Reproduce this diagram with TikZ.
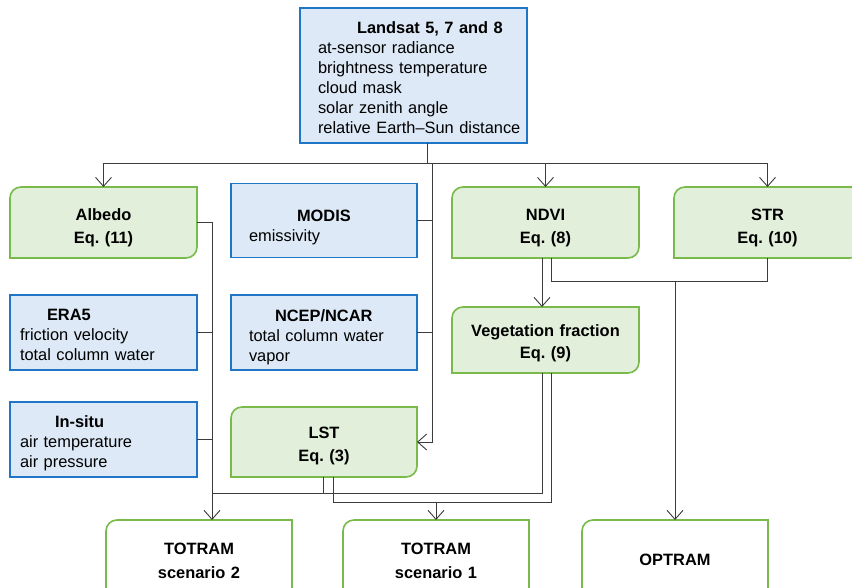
\documentclass[tikz,border=0pt]{standalone}
\usepackage{fontspec}
\setmainfont{Liberation Sans}
\usetikzlibrary{arrows.meta,backgrounds}

\definecolor{srcfill}{RGB}{221,233,246}
\definecolor{srcline}{RGB}{31,118,198}
\definecolor{eqfill}{RGB}{226,239,218}
\definecolor{eqline}{RGB}{120,187,75}
\definecolor{wirecol}{RGB}{60,60,60}

% bold heading, indented from the text start
\newcommand\ttlat[2]{\makebox[0pt][l]{\hspace*{#1}\bfseries #2}}
% green box: top left and bottom right corners rounded
\newcommand\diagshape[2]{%
  \path[draw=eqline, line width=1.6pt, fill=#2]
    (#1.west) [rounded corners=11pt] -- (#1.north west) [sharp corners] -- (#1.north east)
    [rounded corners=11pt] -- (#1.south east) [sharp corners] -- (#1.south west) -- cycle;}

\tikzset{
  drop/.store in=\dropamt, drop=0pt,
  inset/.store in=\insetamt, inset=18pt,
  boxw/.style={minimum width=#1, text width=#1},
  src/.style={draw=srcline, fill=srcfill, line width=1.4pt, inner sep=0pt,
    outer sep=0pt, align=left,
    execute at begin node={\leftskip=\insetamt},
    execute at end node={\par\vspace*{-\dropamt}}},
  srcA/.style={src, boxw=186pt, minimum height=74pt},
  srcB/.style={src, boxw=187pt, minimum height=75pt, inset=10pt},
  eqn/.style={inner sep=0pt, outer sep=0pt, align=center, boxw=187pt,
    font=\fontsize{16.4}{20}\bfseries\selectfont\frenchspacing, minimum height=71pt,
    execute at end node={\par\vspace*{-\dropamt}}},
  wire/.style={draw=wirecol, line width=0.9pt},
  feed/.style={wire, -{Straight Barb[length=9pt,width=16pt]}},
}

\begin{document}
\begin{tikzpicture}[x=1pt, y=-1pt, font=\fontsize{16.4}{20}\selectfont\frenchspacing]
\useasboundingbox (0,0) rectangle (852,588);

% input data
\node[src, boxw=227pt, minimum height=135pt, drop=5pt] (landsat) at (413.5,75.5)
  {\ttlat{39pt}{Landsat 5, 7 and 8}\\at-sensor radiance\\brightness temperature\\cloud mask\\solar zenith angle\\relative Earth--Sun distance};
\node[srcA, drop=13pt] (modis) at (324,220.5) {\ttlat{48pt}{MODIS}\\emissivity};
\node[srcA, minimum height=75pt, drop=10pt] (ncep) at (324,332.5) {\ttlat{26pt}{NCEP/NCAR}\\total column water\\vapor};
\node[srcB, drop=4pt] (era5) at (103.5,332.5) {\ttlat{27pt}{ERA5}\\friction velocity\\total column water};
\node[srcB, drop=8pt] (insitu) at (103.5,439.5) {\ttlat{35pt}{In-situ}\\air temperature\\air pressure};

% derived quantities
\node[eqn, drop=11pt] (albedo) at (103.5,222.5) {Albedo\\[3pt]Eq. (11)};
\node[eqn, drop=11pt] (ndvi) at (545.5,222.5) {NDVI\\[3pt]Eq. (8)};
\node[eqn, drop=11pt] (str) at (767.5,222.5) {STR\\[3pt]Eq. (10)};
\node[eqn, minimum height=66pt, drop=6pt] (vegfrac) at (545.5,340) {Vegetation fraction\\[2pt]Eq. (9)};
\node[eqn, boxw=186pt, minimum height=70pt, drop=8pt] (lst) at (324,442) {LST\\[3pt]Eq. (3)};

% models
\node[eqn, boxw=186pt, minimum height=80pt, drop=2pt] (tot2) at (199,560) {TOTRAM\\[4pt]scenario 2};
\node[eqn, boxw=186pt, minimum height=80pt, drop=2pt] (tot1) at (436,560) {TOTRAM\\[4pt]scenario 1};
\node[eqn, boxw=186pt, minimum height=80pt] (optram) at (675,560) {OPTRAM};

\begin{scope}[on background layer]
  \foreach \n in {albedo,ndvi,str,vegfrac,lst} {\diagshape{\n}{eqfill}}
  \foreach \n in {tot2,tot1,optram} {\diagshape{\n}{white}}
\end{scope}

% junctions
\coordinate (bus) at (427,163);
\coordinate (lsttap) at (432,163);
\coordinate (t2in) at ([xshift=13pt]tot2.north);
\coordinate (j2) at (212,493);
\coordinate (j1) at (436,502);
\coordinate (j3) at (675,281);

\draw[wire] (landsat.south -| bus) -- (bus);
\draw[feed] (bus) -| (albedo.north);
\draw[feed] (bus) -| (ndvi.north);
\draw[feed] (bus) -| (str.north);
\draw[feed] (lsttap) |- (lst.east);
\draw[wire] (modis.east) -- (modis.east -| lsttap);
\draw[wire] (ncep.east) -- (ncep.east -| lsttap);

\draw[feed] (albedo.east) -| (t2in);
\draw[wire] (era5.east) -- (era5.east -| t2in);
\draw[wire] (insitu.east) -- (insitu.east -| t2in);

\draw[wire] ([xshift=-1pt]lst.south) |- (j2);
\draw[wire] ([xshift=9pt]lst.south) |- (j1);
\draw[wire] ([xshift=-3.5pt]vegfrac.south) |- (j2);
\draw[wire] ([xshift=5.5pt]vegfrac.south) |- (j1);
\draw[feed] (j1) -- (tot1.north);

\draw[feed] ([xshift=-3.5pt]ndvi.south) -- ([xshift=-3.5pt]vegfrac.north);
\draw[wire] ([xshift=5.5pt]ndvi.south) |- (str.south |- j3) -- (str.south);
\draw[feed] (j3) -- (optram.north);
\end{tikzpicture}
\end{document}
